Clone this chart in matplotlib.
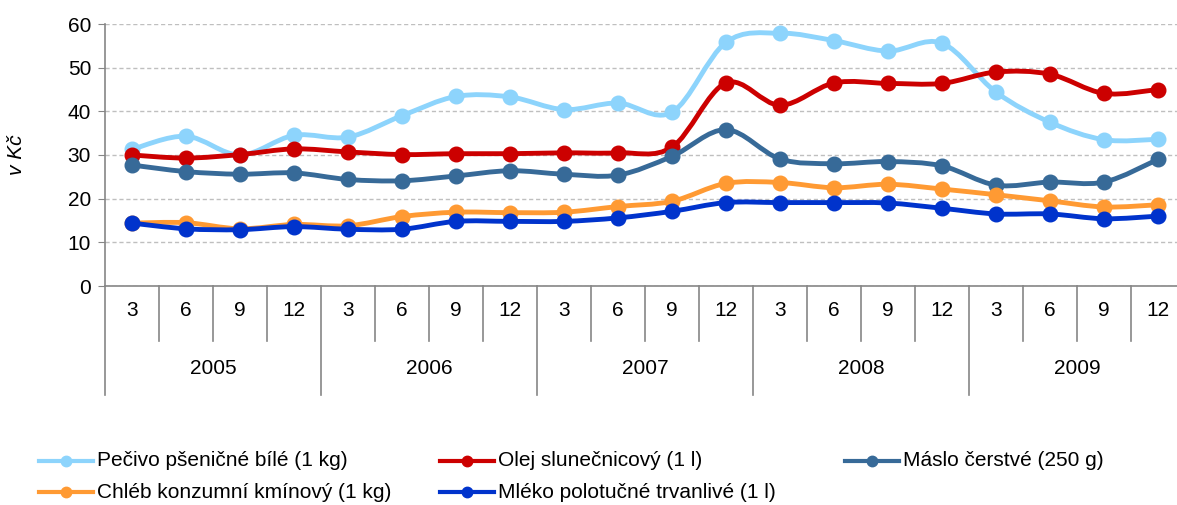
import matplotlib
matplotlib.use("Agg")
import matplotlib.pyplot as plt
from matplotlib.path import Path
from matplotlib.patches import PathPatch
from matplotlib.lines import Line2D
import numpy as np

plt.rcParams["font.family"] = ["Liberation Sans", "DejaVu Sans"]

years = ["2005", "2006", "2007", "2008", "2009"]
months = ["3", "6", "9", "12"]

pecivo = [31.3, 34.3, 30.0, 34.5, 34.1, 39.0, 43.4, 43.3, 40.4, 41.9,
          39.8, 55.8, 57.9, 56.2, 53.8, 55.6, 44.4, 37.5, 33.5, 33.6]
olej = [30.0, 29.3, 30.1, 31.4, 30.7, 30.1, 30.3, 30.3, 30.5, 30.5,
        31.8, 46.5, 41.4, 46.5, 46.4, 46.4, 49.0, 48.5, 44.1, 45.0]
maslo = [27.7, 26.2, 25.6, 25.9, 24.4, 24.1, 25.2, 26.4, 25.6, 25.4,
         29.7, 35.8, 29.1, 28.0, 28.5, 27.5, 23.1, 23.8, 23.8, 29.0]
chleb = [14.4, 14.5, 13.1, 14.1, 13.8, 15.9, 16.9, 16.8, 16.9, 18.2,
         19.4, 23.5, 23.7, 22.5, 23.3, 22.2, 20.9, 19.5, 18.1, 18.6]
mleko = [14.4, 13.1, 12.9, 13.6, 13.0, 13.0, 14.8, 14.8, 14.8, 15.6,
         17.1, 19.1, 19.1, 19.1, 19.0, 17.8, 16.5, 16.5, 15.4, 16.0]

labels = ["Pečivo pšeničné bílé (1 kg)", "Olej slunečnicový (1 l)",
          "Máslo čerstvé (250 g)", "Chléb konzumní kmínový (1 kg)",
          "Mléko polotučné trvanlivé (1 l)"]
series = [pecivo, olej, maslo, chleb, mleko]
colors = ["#8DD4FC", "#CC0000", "#376A98", "#FF9A33", "#0033CC"]

W, H = 1177, 505
fig = plt.figure(figsize=(W / 100, H / 100), dpi=100)
ax = fig.add_axes([105 / W, 1 - 286 / H, 1080 / W, 262 / H])

gray = "#868686"
fs = 15


def smooth_path(xs, ys):
    # excel-like smoothed line: cubic bezier through the points
    p = np.column_stack([xs, ys]).astype(float)
    n = len(p)
    verts = [p[0]]
    codes = [Path.MOVETO]
    for i in range(n - 1):
        p0 = p[i - 1] if i > 0 else p[i]
        p3 = p[i + 2] if i + 2 < n else p[i + 1]
        c1 = p[i] + (p[i + 1] - p0) / 6.0
        c2 = p[i + 1] - (p3 - p[i]) / 6.0
        verts += [c1, c2, p[i + 1]]
        codes += [Path.CURVE4] * 3
    return Path(verts, codes)


x = np.arange(len(years) * len(months))
for k, (vals, col) in enumerate(zip(series, colors)):
    patch = PathPatch(smooth_path(x, vals), facecolor="none", edgecolor=col,
                      lw=3.5, capstyle="round", joinstyle="round", zorder=3 + k)
    ax.add_patch(patch)
    ax.plot(x, vals, "o", color=col, ms=10.5, mec=col, zorder=3 + k)

ax.set_xlim(-0.5, len(x) - 0.5)
ax.set_ylim(0, 60)
ax.set_yticks(range(0, 61, 10))
ax.yaxis.grid(True, ls=(0, (3, 2)), color="#BFBFBF", lw=1)
ax.set_axisbelow(True)
ax.set_xticks([])
ax.tick_params(axis="y", length=5, color=gray, labelsize=fs, pad=5)
for s in ["top", "right"]:
    ax.spines[s].set_visible(False)
for s in ["left", "bottom"]:
    ax.spines[s].set_color(gray)
    ax.spines[s].set_linewidth(1.2)

ax.set_ylabel("v Kč", fontsize=fs, style="italic", labelpad=30)

tr = ax.get_xaxis_transform()
y_month = -(341 - 286) / 262
y_year = -(395 - 286) / 262
for i in range(len(x) + 1):
    yb = y_year if i % 4 == 0 else y_month
    ax.plot([i - 0.5, i - 0.5], [0, yb], color=gray, lw=1.2,
            transform=tr, clip_on=False)
for i in x:
    ax.text(i, -25 / 262, months[i % 4], transform=tr, ha="center",
            va="center", fontsize=fs)
for j, yr in enumerate(years):
    ax.text(j * 4 + 1.5, -82 / 262, yr, transform=tr, ha="center",
            va="center", fontsize=fs)

# legend laid out like the original (row-wise, fixed columns)
pos = [(39, 461), (440, 461), (845, 461), (39, 492), (440, 492)]
for (px, py), lab, col in zip(pos, labels, colors):
    yf = 1 - py / H
    fig.add_artist(Line2D([px / W, (px + 54) / W], [yf, yf], color=col,
                          lw=3))
    fig.add_artist(Line2D([(px + 27) / W], [yf], color=col, marker="o",
                          ms=7.5, lw=0))
    fig.text((px + 58) / W, yf, lab, fontsize=fs, va="center", ha="left")

fig.savefig("out.png", dpi=100)
